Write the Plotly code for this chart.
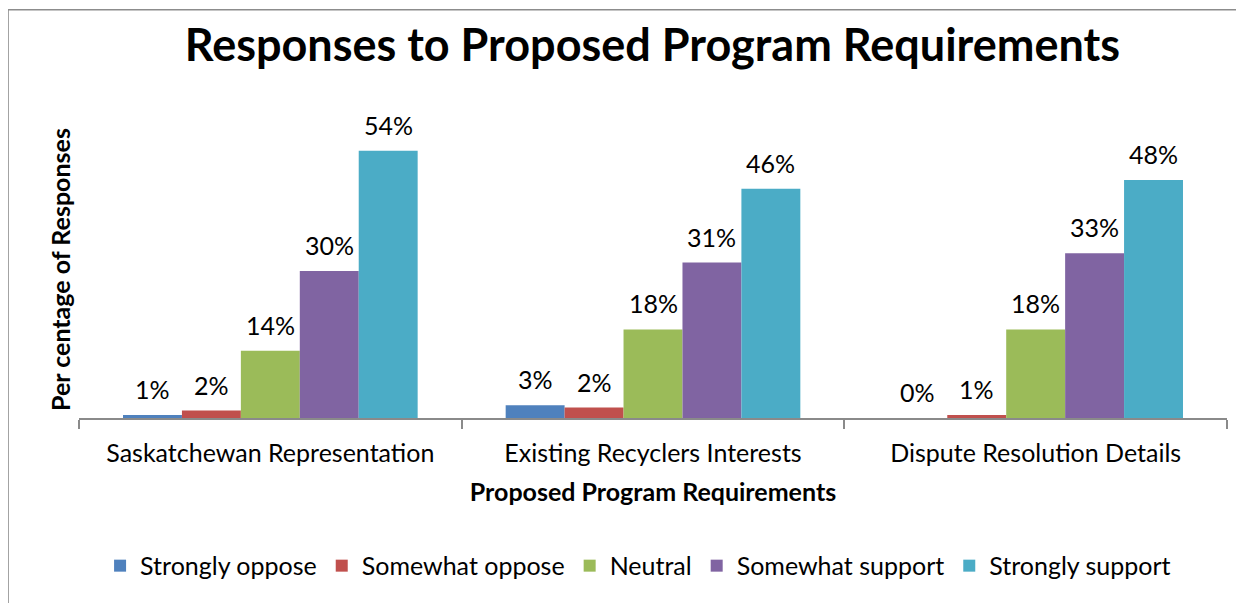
import plotly.graph_objects as go

categories = ["Saskatchewan Representation", "Existing Recyclers Interests", "Dispute Resolution Details"]
series_names = ["Strongly oppose", "Somewhat oppose", "Neutral", "Somewhat support", "Strongly support"]
strongly_oppose = [0.6, 2.6, 0.0]
somewhat_oppose = [1.5, 2.1, 0.6]
neutral = [13.6, 17.9, 17.9]
somewhat_support = [29.7, 31.4, 33.3]
strongly_support = [54.0, 46.3, 48.1]
series_values = [strongly_oppose, somewhat_oppose, neutral, somewhat_support, strongly_support]
colors = ["#4F81BD", "#C0504D", "#9BBB59", "#8064A2", "#4BACC6"]

FONT = "Lato"
BARGAP = 0.23

fig = go.Figure()
for name, vals, col in zip(series_names, series_values, colors):
    fig.add_trace(go.Bar(name=name, x=categories, y=vals, marker=dict(color=col, line=dict(width=0))))

# data labels above bars
n = len(series_names)
w = (1 - BARGAP) / n
annotations = []
for i, vals in enumerate(series_values):
    for j, v in enumerate(vals):
        annotations.append(dict(
            x=j - (1 - BARGAP) / 2 + w * (i + 0.5), y=v, xref="x", yref="y",
            text=f"{round(v):.0f}%", showarrow=False, yanchor="middle", yshift=26,
            font=dict(family=FONT, size=25, color="#000000")))

fig.update_layout(
    width=1244, height=603,
    margin=dict(l=71, r=25, t=113, b=193),
    paper_bgcolor="white", plot_bgcolor="white",
    barmode="group", bargap=BARGAP, bargroupgap=0,
    title=dict(text="<b>Responses to Proposed Program Requirements</b>",
               font=dict(family=FONT, size=45, color="#000000"),
               x=0.518, xanchor="center", y=0.939, yanchor="middle"),
    font=dict(family=FONT, color="#000000"),
    xaxis=dict(type="category", tickson="boundaries", ticks="outside", ticklen=9,
               tickcolor="#8a8a8a", tickwidth=1.5, showline=True, linecolor="#8a8a8a",
               linewidth=1.5, showgrid=False, tickfont=dict(family=FONT, size=25, color="#000000"),
               ticklabelstandoff=12,
               title=dict(text="<b>Proposed Program Requirements</b>",
                          font=dict(family=FONT, size=25, color="#000000"), standoff=18)),
    yaxis=dict(range=[0, 60], showticklabels=False, showgrid=False, showline=False,
               zeroline=False, ticks="",
               title=dict(text="<b>Per centage of Responses</b>",
                          font=dict(family=FONT, size=25, color="#000000"), standoff=0)),
    legend=dict(orientation="h", x=0.487, xanchor="center", y=-0.498, yanchor="middle",
                font=dict(family=FONT, size=25, color="#000000"), traceorder="normal"),
    annotations=annotations,
    shapes=[
        dict(type="line", xref="paper", yref="paper", x0=-0.0618, x1=1.05, y0=1.375, y1=1.375,
             line=dict(color="#8c8c8c", width=1.5)),
        dict(type="line", xref="paper", yref="paper", x0=-0.0618, x1=-0.0618, y0=1.375, y1=-0.8,
             line=dict(color="#8c8c8c", width=1.5)),
    ],
)

fig.write_html("out.html")
